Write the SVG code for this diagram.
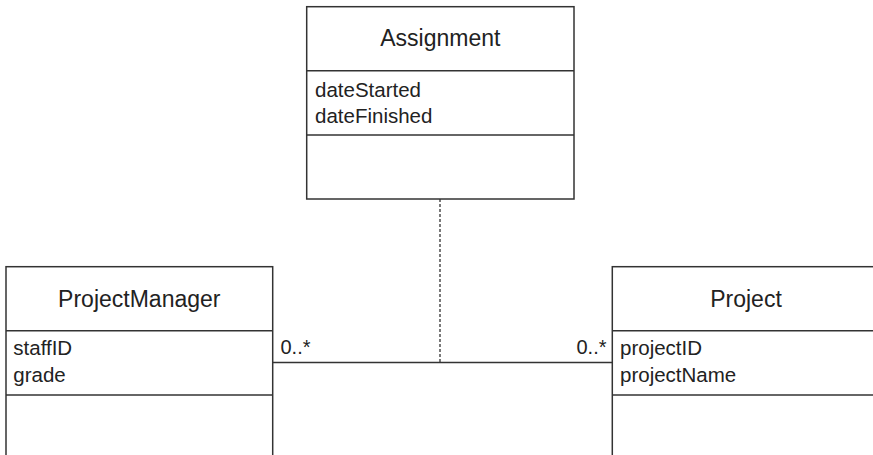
<svg xmlns="http://www.w3.org/2000/svg" width="873" height="455" viewBox="0 0 873 455">
<style>
.box{fill:#fff;stroke:#333;stroke-width:1.5}
.div{stroke:#333;stroke-width:1.5}
.title{font-family:"Liberation Sans",Arial,sans-serif;font-size:23px;fill:#222;text-anchor:middle}
.attr{font-family:"Liberation Sans",Arial,sans-serif;font-size:20.5px;fill:#222}
.mult{font-family:"Liberation Sans",Arial,sans-serif;font-size:20px;fill:#222}
.conn{stroke:#333;stroke-width:1.5;fill:none}
.dot{stroke:#333;stroke-width:1.3;stroke-dasharray:3 2;fill:none}
</style>
<rect width="873" height="455" fill="#fff"/>
<g id="connectors">
<line class="conn" x1="272.7" y1="362.5" x2="612.3" y2="362.5"/>
<line class="dot" x1="440" y1="199" x2="440" y2="362.5"/>
<text class="mult" x="280.5" y="354">0..*</text>
<text class="mult" x="606.5" y="354" text-anchor="end">0..*</text>
</g>
<g id="assignment">
<rect class="box" x="306.7" y="6.7" width="267.3" height="192.3"/>
<line class="div" x1="306.7" y1="70.7" x2="574" y2="70.7"/>
<line class="div" x1="306.7" y1="135" x2="574" y2="135"/>
<text class="title" x="440.3" y="45.7">Assignment</text>
<text class="attr" x="315" y="96.7">dateStarted</text>
<text class="attr" x="315" y="123.3">dateFinished</text>
</g>
<g id="projectmanager">
<rect class="box" x="6" y="266.7" width="266.7" height="200"/>
<line class="div" x1="6" y1="330.7" x2="272.7" y2="330.7"/>
<line class="div" x1="6" y1="395" x2="272.7" y2="395"/>
<text class="title" x="139.3" y="306.7">ProjectManager</text>
<text class="attr" x="13.3" y="355">staffID</text>
<text class="attr" x="13.3" y="381.7">grade</text>
</g>
<g id="project">
<rect class="box" x="612.3" y="266.7" width="267" height="200"/>
<line class="div" x1="612.3" y1="330.7" x2="879.3" y2="330.7"/>
<line class="div" x1="612.3" y1="395" x2="879.3" y2="395"/>
<text class="title" x="746" y="306.7">Project</text>
<text class="attr" x="620" y="355">projectID</text>
<text class="attr" x="620" y="381.7">projectName</text>
</g>
</svg>
